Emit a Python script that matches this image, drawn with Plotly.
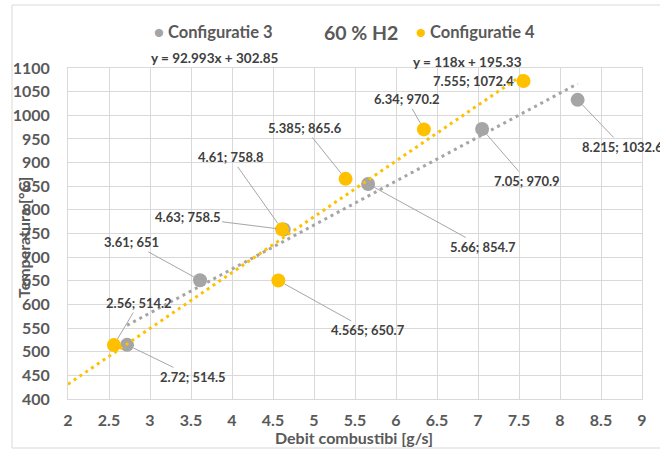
import plotly.graph_objects as go

# Measured points: fuel flow [g/s] vs temperature [°C]
x_conf3 = [2.72, 3.61, 4.63, 5.66, 7.05, 8.215]
y_conf3 = [514.5, 651, 758.5, 854.7, 970.9, 1032.6]
x_conf4 = [2.56, 4.565, 4.61, 5.385, 6.34, 7.555]
y_conf4 = [514.2, 650.7, 758.8, 865.6, 970.2, 1072.4]

# Linear trendlines (slope, intercept) and the x span they cover
trend3 = (92.993, 302.85)
trend4 = (118.0, 195.33)
trend3_span = [2.72, 8.215]
trend4_span = [2.0, 7.555]

x_ticks = [2, 2.5, 3, 3.5, 4, 4.5, 5, 5.5, 6, 6.5, 7, 7.5, 8, 8.5, 9]
y_ticks = list(range(400, 1101, 50))

GRAY = "#A5A5A5"
GOLD = "#FFC000"
TXT = "#595959"
DARK = "#404040"
FONT = "Lato"

# plot area in pixels
L, R, T, B = 68, 18, 68, 54
W, H = 660, 453
PW, PH = W - L - R, H - T - B


def px(xp):
    return (xp - L) / PW


def py(yp):
    return (H - B - yp) / PH


def fmt(v):
    return f"{v:g}"


def bold(size, color=TXT):
    return dict(family=FONT, size=size, color=color, weight=700)


fig = go.Figure()

fig.add_trace(go.Scatter(
    x=x_conf3, y=y_conf3, mode="markers", name="Configuratie 3",
    marker=dict(color=GRAY, size=14), showlegend=False))
fig.add_trace(go.Scatter(
    x=x_conf4, y=y_conf4, mode="markers", name="Configuratie 4",
    marker=dict(color=GOLD, size=14), showlegend=False))

for (m, c), span, col in [(trend3, trend3_span, GRAY), (trend4, trend4_span, GOLD)]:
    fig.add_trace(go.Scatter(
        x=span, y=[m * v + c for v in span], mode="lines",
        line=dict(color=col, width=3, dash="3px,4px"),
        showlegend=False, hoverinfo="skip"))

lab_font = bold(13, DARK)

# label offsets (pixels, label centre relative to the point)
off3 = [(66, 32), (-69, -38), (-96, -12), (115, 63), (45, 52), (45, 47)]
off4 = [(25, -42), (90, 50), (-51, -72), (-41, -51), (-17, -30), None]

annotations = []
for xs, ys, offs in [(x_conf3, y_conf3, off3), (x_conf4, y_conf4, off4)]:
    for xv, yv, o in zip(xs, ys, offs):
        text = f"{fmt(xv)}; {fmt(yv)}"
        if o is None:
            annotations.append(dict(
                x=xv, y=yv, xref="x", yref="y", text=text, showarrow=False,
                xanchor="right", yanchor="middle", xshift=-8, font=lab_font))
        else:
            annotations.append(dict(
                x=xv, y=yv, xref="x", yref="y", text=text, showarrow=True,
                ax=o[0], ay=o[1], arrowhead=0, arrowwidth=1,
                arrowcolor="#A6A6A6", standoff=7, font=lab_font))


def note(xp, yp, text, font, **kw):
    d = dict(x=px(xp), y=py(yp), xref="paper", yref="paper", showarrow=False,
             xanchor="center", yanchor="middle", text=text, font=font)
    d.update(kw)
    annotations.append(d)


# trendline equations
note(214, 58, f"y = {trend3[0]:g}x + {trend3[1]:g}", bold(13.5, DARK))
note(467, 62, f"y = {trend4[0]:g}x + {trend4[1]:g}", bold(13.5, DARK))

# title and legend row
note(361, 32, "60 % H2", bold(19.5))
note(152, 32, f"<span style='color:{GRAY}'>●</span> Configuratie 3", bold(16.5),
     xanchor="left")
note(414, 32, f"<span style='color:{GOLD}'>●</span> Configuratie 4", bold(16.5),
     xanchor="left")

# axis titles
note(354, 437, "Debit combustibi [g/s]", bold(16))
note(24, 238, "Temperatura [°C]", bold(16), textangle=-90)

shapes = [dict(
    type="rect", xref="paper", yref="paper",
    x0=px(12), x1=px(700), y0=py(448), y1=py(5),
    line=dict(color="#D9D9D9", width=1), fillcolor="rgba(0,0,0,0)",
    layer="below")]

tick_font = bold(16)

fig.update_layout(
    width=W, height=H,
    margin=dict(l=L, r=R, t=T, b=B),
    paper_bgcolor="white", plot_bgcolor="white",
    showlegend=False,
    annotations=annotations, shapes=shapes,
    xaxis=dict(range=[2, 9], tickvals=x_ticks, ticktext=[fmt(v) for v in x_ticks],
               showgrid=True, gridcolor="#D9D9D9", gridwidth=1, zeroline=False,
               showline=True, mirror=True, linecolor="#D9D9D9", linewidth=1,
               tickfont=tick_font, ticks="", ticklabelstandoff=7),
    yaxis=dict(range=[400, 1100], tickvals=y_ticks,
               showgrid=True, gridcolor="#D9D9D9", gridwidth=1, zeroline=False,
               showline=True, mirror=True, linecolor="#D9D9D9", linewidth=1,
               tickfont=tick_font, ticks="", ticklabelstandoff=14),
)

fig.write_html("out.html")
